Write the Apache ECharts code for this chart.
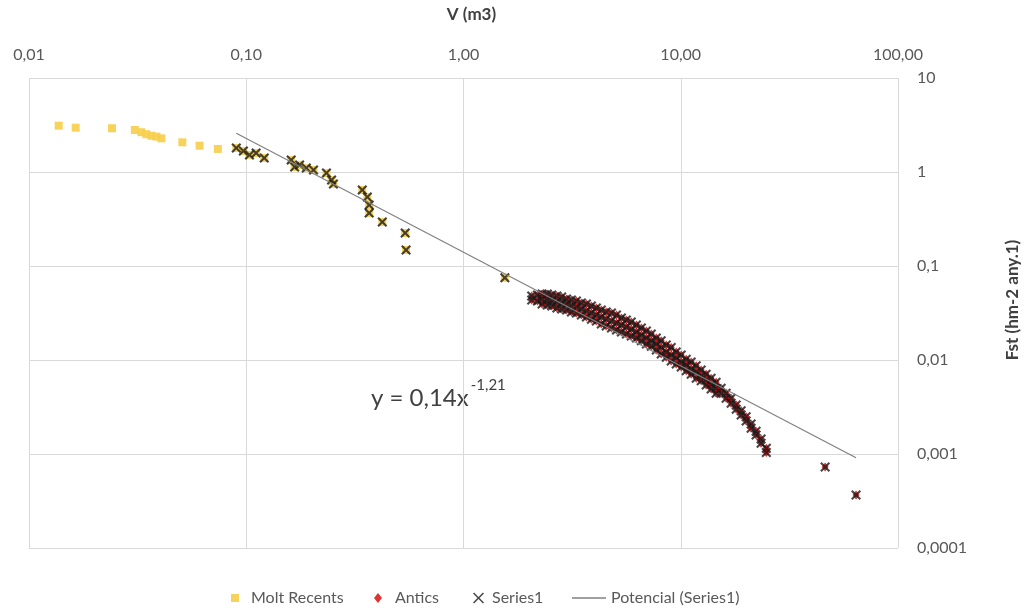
<!DOCTYPE html>
<html>
<head>
<meta charset="utf-8">
<title>Fst vs V</title>
<script src="https://cdn.jsdelivr.net/npm/echarts@6/dist/echarts.min.js"></script>
<style>
  html, body { margin: 0; padding: 0; background: #ffffff; }
  #chart { width: 1029px; height: 608px; }
</style>
</head>
<body>
<div id="chart"></div>
<script>
// Tick labels (decimal comma)
const xTickLabels = ['0,01', '0,10', '1,00', '10,00', '100,00'];
const yTickLabels = ['0,0001', '0,001', '0,01', '0,1', '1', '10'];

// Molt Recents: volume (m3) and Fst
const moltV = [0.0137, 0.0164, 0.0241, 0.0307, 0.0329, 0.0347, 0.0366, 0.0386, 0.0407, 0.0508, 0.0610, 0.0740,
  0.090, 0.097, 0.1035, 0.111, 0.121, 0.161, 0.167, 0.176, 0.189, 0.204, 0.234, 0.247, 0.252,
  0.342, 0.361, 0.368, 0.368, 0.423, 0.539, 0.544, 1.55];
const moltFst = [3.11, 2.96, 2.92, 2.80, 2.65, 2.52, 2.43, 2.38, 2.28, 2.07, 1.905, 1.76,
  1.80, 1.67, 1.52, 1.59, 1.41, 1.34, 1.13, 1.19, 1.10, 1.05, 0.975, 0.82, 0.745,
  0.644, 0.542, 0.446, 0.367, 0.294, 0.224, 0.148, 0.0751];

// Antics: [V, Fst]
const antics = [
  [2.06, 0.0480], [2.06, 0.0435],
  [2.19, 0.0491], [2.19, 0.0424],
  [2.30, 0.0503], [2.30, 0.0446], [2.30, 0.0394],
  [2.43, 0.0503], [2.43, 0.0435], [2.43, 0.0385],
  [2.55, 0.0491], [2.55, 0.0424], [2.55, 0.0376],
  [2.69, 0.0480], [2.69, 0.0414], [2.69, 0.0358],
  [2.83, 0.0468], [2.83, 0.0404], [2.83, 0.0349],
  [2.98, 0.0446], [2.98, 0.0394], [2.98, 0.0340],
  [3.14, 0.0435], [3.14, 0.0376], [3.14, 0.0324],
  [3.31, 0.0424], [3.31, 0.0367], [3.31, 0.0316],
  [3.49, 0.0404], [3.49, 0.0349], [3.49, 0.0301],
  [3.68, 0.0394], [3.68, 0.0332], [3.68, 0.0287],
  [3.88, 0.0376], [3.88, 0.0316], [3.88, 0.0272],
  [4.09, 0.0358], [4.09, 0.0301], [4.09, 0.0260],
  [4.31, 0.0340], [4.31, 0.0287], [4.31, 0.0242],
  [4.54, 0.0324], [4.54, 0.0272], [4.54, 0.0230],
  [4.80, 0.0316], [4.80, 0.0260], [4.80, 0.0219],
  [5.06, 0.0301], [5.06, 0.0248], [5.06, 0.0208],
  [5.33, 0.0280], [5.33, 0.0236], [5.33, 0.0198],
  [5.62, 0.0266], [5.62, 0.0224], [5.62, 0.0189],
  [5.92, 0.0254], [5.92, 0.0213], [5.92, 0.0180],
  [6.25, 0.0236], [6.25, 0.0198], [6.25, 0.0171],
  [6.59, 0.0219], [6.59, 0.0185], [6.59, 0.0160],
  [6.95, 0.0203], [6.95, 0.0171], [6.95, 0.0148],
  [7.32, 0.0189], [7.32, 0.0160], [7.32, 0.0140],
  [7.72, 0.0171], [7.72, 0.0148], [7.72, 0.0128],
  [8.13, 0.0160], [8.13, 0.0136], [8.13, 0.0116],
  [8.58, 0.0144], [8.58, 0.0122], [8.58, 0.0107],
  [9.04, 0.0136], [9.04, 0.0113], [9.04, 0.00977],
  [9.53, 0.0122], [9.53, 0.0105], [9.53, 0.00908],
  [10.05, 0.0113], [10.05, 0.00953], [10.05, 0.00843],
  [10.60, 0.0102], [10.60, 0.00885], [10.60, 0.00767],
  [11.17, 0.00953], [11.17, 0.00800], [11.17, 0.00707],
  [11.78, 0.00867], [11.78, 0.00752], [11.78, 0.00640],
  [12.42, 0.00783], [12.42, 0.00679], [12.42, 0.00600],
  [13.09, 0.00707], [13.09, 0.00613], [13.09, 0.00542],
  [13.80, 0.00640], [13.80, 0.00553], [13.80, 0.00490],
  [14.55, 0.00580], [14.55, 0.00501], [14.55, 0.00442],
  [15.35, 0.00501], [15.35, 0.00442],
  [16.18, 0.00442], [16.18, 0.00391],
  [17.06, 0.00391], [17.06, 0.00346],
  [18.00, 0.00332], [18.00, 0.00300],
  [18.97, 0.00288], [18.97, 0.00260],
  [20.00, 0.00249], [20.00, 0.00225],
  [21.08, 0.00208], [21.08, 0.00188],
  [22.22, 0.00175], [22.22, 0.00159],
  [23.43, 0.00144], [23.43, 0.00130],
  [24.77, 0.00115], [24.77, 0.00104],
  [46.2, 0.000728],
  [64.1, 0.000366]
];

// Series1 takes the Molt Recents points from this volume on, plus all Antics
const series1MinV = 0.09;

// Power trend of Series1: y = 0,14 x^-1,21
const trendCoef = 0.14;
const trendExp = -1.21;
const eqMain = 'y = 0,14x';
const eqPower = '-1,21';

const moltData = moltV.map((v, i) => [v, moltFst[i]]);
const series1Data = moltData.filter(p => p[0] >= series1MinV).concat(antics);
const s1V = series1Data.map(p => p[0]);
const trendEnds = [Math.min(...s1V), Math.max(...s1V)];
const trendData = trendEnds.map(v => [v, trendCoef * Math.pow(v, trendExp)]);

const X_SYMBOL = 'path://M0,1.5L1.5,0L5,3.5L8.5,0L10,1.5L6.5,5L10,8.5L8.5,10L5,6.5L1.5,10L0,8.5L3.5,5Z';
const X_LEGEND = 'path://M0,1L1,0L5,4L9,0L10,1L6,5L10,9L9,10L5,6L1,10L0,9L4,5Z';
const FONT = 'Lato, "Open Sans", sans-serif';
const labelColor = '#595959';
const titleColor = '#404040';
const gridColor = '#D9D9D9';

// width of the main equation text, so the exponent sits right after the "x"
const eqFontSize = 24;
const ctx = document.createElement('canvas').getContext('2d');
ctx.font = eqFontSize + 'px Lato';
const eqMainWidth = ctx.measureText(eqMain).width;
const eqLeft = 371;

const chart = echarts.init(document.getElementById('chart'), null, { renderer: 'canvas' });

function legendItem(name, icon, left, w, h, pad) {
  return {
    data: [{ name: name, icon: icon }],
    left: left,
    top: 585,
    itemWidth: w,
    itemHeight: h,
    selectedMode: false,
    textStyle: { color: labelColor, fontSize: 16, fontFamily: FONT, padding: [0, 0, 0, pad] }
  };
}

chart.setOption({
  animation: false,
  backgroundColor: '#ffffff',
  grid: { left: 29, right: 129, top: 78, bottom: 60, containLabel: false },
  xAxis: {
    type: 'log',
    logBase: 10,
    position: 'top',
    min: 0.01,
    max: 100,
    splitNumber: 4,
    axisLine: { show: false },
    axisTick: { show: false },
    splitLine: { show: true, lineStyle: { color: gridColor, width: 1 } },
    minorSplitLine: { show: false },
    axisLabel: {
      color: labelColor, fontSize: 16, fontFamily: FONT, margin: 15,
      formatter: v => xTickLabels[Math.round(Math.log10(v)) + 2] || ''
    },
    name: 'V (m3)',
    nameLocation: 'middle',
    nameGap: 55,
    nameTextStyle: { color: titleColor, fontWeight: 'bold', fontSize: 17, fontFamily: FONT, padding: [0, 0, 0, 16] }
  },
  yAxis: {
    type: 'log',
    logBase: 10,
    position: 'right',
    min: 0.0001,
    max: 10,
    splitNumber: 5,
    axisLine: { show: false },
    axisTick: { show: false },
    splitLine: { show: true, lineStyle: { color: gridColor, width: 1 } },
    axisLabel: {
      color: labelColor, fontSize: 16, fontFamily: FONT, margin: 19,
      formatter: v => yTickLabels[Math.round(Math.log10(v)) + 4] || ''
    },
    name: 'Fst (hm-2 any.1)',
    nameLocation: 'middle',
    nameRotate: 90,
    nameGap: 106,
    nameTextStyle: { color: titleColor, fontWeight: 'bold', fontSize: 17, fontFamily: FONT, padding: [0, 0, 0, 26] }
  },
  legend: [
    legendItem('Molt Recents', 'rect', 226, 8, 8, 7),
    legendItem('Antics', 'diamond', 369, 8, 10, 8),
    legendItem('Series1', X_LEGEND, 468, 11, 11, 3),
    legendItem('Potencial (Series1)', 'path://M0,0L34,0L34,1.3L0,1.3Z', 567, 34, 1.3, 0)
  ],
  series: [
    {
      name: 'Molt Recents',
      type: 'scatter',
      data: moltData,
      symbol: 'rect',
      symbolSize: 8,
      itemStyle: { color: '#F6CE4A', opacity: 0.9 },
      z: 2
    },
    {
      name: 'Antics',
      type: 'scatter',
      data: antics,
      symbol: 'diamond',
      symbolSize: [7, 9],
      itemStyle: { color: '#D40000' },
      z: 3
    },
    {
      name: 'Series1',
      type: 'scatter',
      data: series1Data,
      symbol: X_SYMBOL,
      symbolSize: 10,
      itemStyle: { color: '#1A1A1A' },
      z: 4
    },
    {
      name: 'Potencial (Series1)',
      type: 'line',
      data: trendData,
      symbol: 'none',
      lineStyle: { color: '#808080', width: 1.2 },
      itemStyle: { color: '#808080' },
      z: 5
    }
  ],
  graphic: [
    {
      type: 'text', x: eqLeft, y: 398,
      style: { text: eqMain, fontSize: eqFontSize, fontFamily: FONT, fill: titleColor, verticalAlign: 'middle' }
    },
    {
      type: 'text', x: eqLeft + eqMainWidth + 2, y: 385,
      style: { text: eqPower, fontSize: 15, fontFamily: FONT, fill: titleColor, verticalAlign: 'middle' }
    }
  ]
});
</script>
</body>
</html>
